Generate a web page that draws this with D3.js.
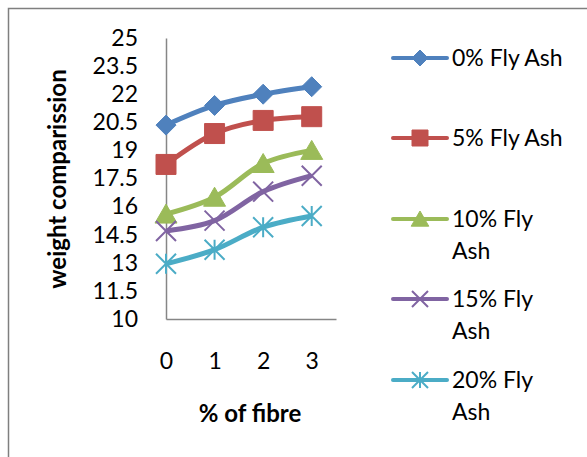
<!DOCTYPE html>
<html>
<head>
<meta charset="utf-8">
<script src="https://cdn.jsdelivr.net/npm/d3@7"></script>
<style>
  body { margin: 0; background: #fff; }
  svg { display: block; font-family: Lato, "Open Sans", sans-serif; }
</style>
</head>
<body>
<div id="chart"></div>
<script>
// data
const fibre = [0, 1, 2, 3];
const yTicks = [10, 11.5, 13, 14.5, 16, 17.5, 19, 20.5, 22, 23.5, 25];
const seriesNames = ["0% Fly Ash", "5% Fly Ash", "10% Fly Ash", "15% Fly Ash", "20% Fly Ash"];
const flyAsh0 = [20.35, 21.4, 22.0, 22.4];
const flyAsh5 = [18.25, 19.9, 20.6, 20.8];
const flyAsh10 = [15.6, 16.5, 18.3, 19.0];
const flyAsh15 = [14.7, 15.25, 16.8, 17.65];
const flyAsh20 = [12.95, 13.7, 14.9, 15.5];

const colors = ["#4f81bd", "#c0504d", "#9bbb59", "#8064a2", "#4bacc6"];
const markers = ["diamond", "square", "triangle", "x", "star"];

const width = 587, height = 457;

const svg = d3.select("#chart").append("svg")
    .attr("width", width)
    .attr("height", height);

// outer chart frame (only left and top edges are in view)
svg.append("rect")
    .attr("x", 8.5).attr("y", 8.5)
    .attr("width", 640).attr("height", 500)
    .attr("fill", "none")
    .attr("stroke", "#7f7f7f")
    .attr("stroke-width", 1.5);

const x = d3.scaleLinear().domain([0, 3.5]).range([166, 336]);
const y = d3.scaleLinear().domain([10, 25]).range([319, 38]);

// axes, no tick marks
const yAxis = svg.append("g")
    .attr("transform", "translate(166,0)")
    .call(d3.axisLeft(y).tickValues(yTicks).tickSize(0).tickPadding(28).tickFormat(d => d));
const xAxis = svg.append("g")
    .attr("transform", "translate(0,319)")
    .call(d3.axisBottom(x).tickValues(fibre).tickSize(0).tickPadding(34).tickFormat(d => d));

[yAxis, xAxis].forEach(g => {
    g.select(".domain").attr("stroke", "#868686").attr("stroke-width", 1.5);
    g.selectAll("text").attr("font-size", 23).attr("fill", "#000").attr("font-family", "Lato, sans-serif");
});

// axis titles
svg.append("text")
    .attr("x", 250).attr("y", 422)
    .attr("text-anchor", "middle")
    .attr("font-size", 24).attr("font-weight", "bold")
    .text("% of fibre");

svg.append("text")
    .attr("transform", "translate(66,179) rotate(-90)")
    .attr("text-anchor", "middle")
    .attr("font-size", 24).attr("font-weight", "bold")
    .text("weight comparission");

function markerPath(type, r) {
    switch (type) {
        case "diamond": return `M0,${-r}L${r},0L0,${r}L${-r},0Z`;
        case "square": return `M${-r},${-r}H${r}V${r}H${-r}Z`;
        case "triangle": return `M0,${-r}L${r * 1.1},${r * 0.9}H${-r * 1.1}Z`;
        case "x": return `M${-r},${-r}L${r},${r}M${r},${-r}L${-r},${r}`;
        case "star": return `M${-r},${-r}L${r},${r}M${r},${-r}L${-r},${r}M0,${-r}V${r}`;
    }
}

const seriesValues = [flyAsh0, flyAsh5, flyAsh10, flyAsh15, flyAsh20];

const line = d3.line()
    .x((d, i) => x(fibre[i]))
    .y(d => y(d))
    .curve(d3.curveCatmullRom.alpha(0.5));

function drawMarker(g, type, color, r) {
    const open = type === "x" || type === "star";
    g.append("path")
        .attr("d", markerPath(type, r))
        .attr("fill", open ? "none" : color)
        .attr("stroke", color)
        .attr("stroke-width", open ? 2 : 1);
}

seriesValues.forEach((vals, s) => {
    svg.append("path")
        .datum(vals)
        .attr("d", line)
        .attr("fill", "none")
        .attr("stroke", colors[s])
        .attr("stroke-width", 5)
        .attr("stroke-linejoin", "round");

    vals.forEach((v, i) => {
        const g = svg.append("g").attr("transform", `translate(${x(fibre[i])},${y(v)})`);
        drawMarker(g, markers[s], colors[s], 10);
    });
});

// legend
const legendY = [58, 138, 219, 299, 380];
seriesNames.forEach((name, s) => {
    const g = svg.append("g").attr("transform", `translate(393,${legendY[s]})`);
    g.append("line")
        .attr("x1", 0).attr("x2", 54)
        .attr("stroke", colors[s]).attr("stroke-width", 4)
        .attr("stroke-linecap", "round");
    const m = g.append("g").attr("transform", "translate(27,0)");
    drawMarker(m, markers[s], colors[s], 8);

    // wrap like the reference: long names break before "Ash"
    const lines = name.length > 10 ? [name.replace(" Ash", ""), "Ash"] : [name];
    lines.forEach((t, k) => {
        g.append("text")
            .attr("x", 59).attr("y", k * 32)
            .attr("dy", "0.35em")
            .attr("font-size", 23)
            .text(t);
    });
});
</script>
</body>
</html>
